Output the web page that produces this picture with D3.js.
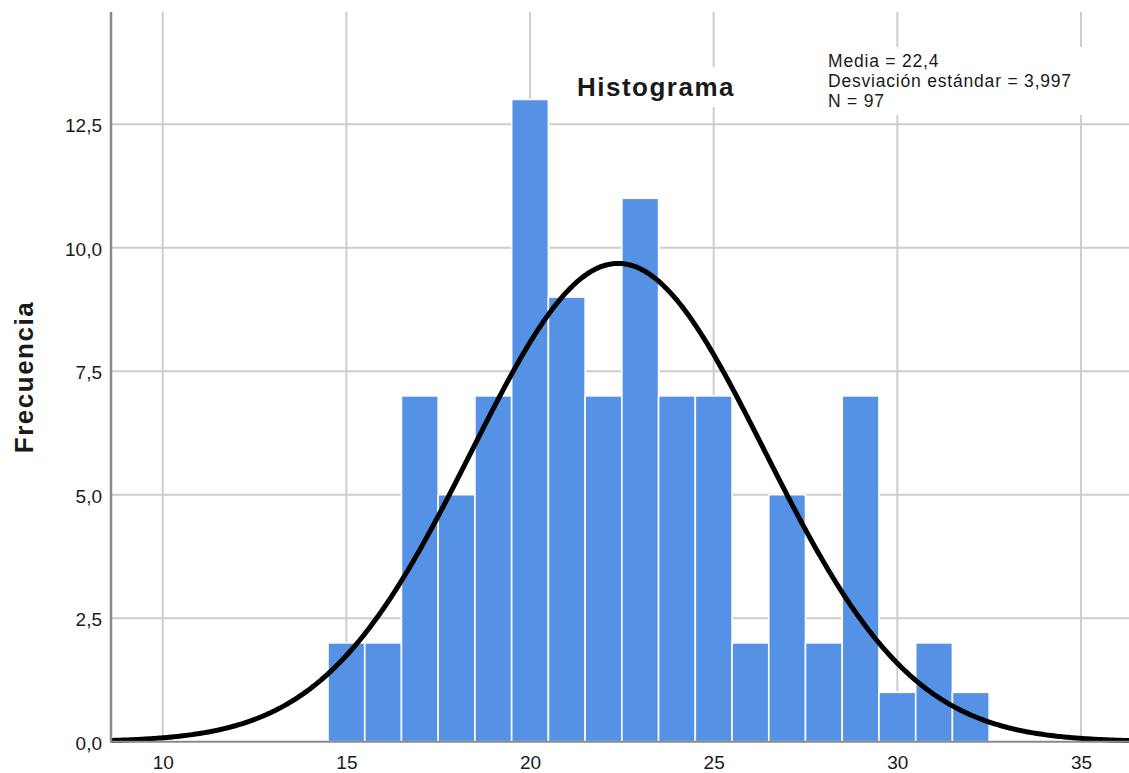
<!DOCTYPE html>
<html>
<head>
<meta charset="utf-8">
<script src="https://cdn.jsdelivr.net/npm/d3@7"></script>
<style>
  html, body { margin: 0; padding: 0; background: #fff; }
  svg { display: block; }
  text { font-family: "Liberation Sans", Arial, sans-serif; fill: #1a1a1a; }
</style>
</head>
<body>
<svg id="chart" width="1129" height="773"></svg>
<script>
// ---- data ----
const binCenters = [15, 16, 17, 18, 19, 20, 21, 22, 23, 24, 25, 26, 27, 28, 29, 30, 31, 32];
const counts     = [2, 2, 7, 5, 7, 13, 9, 7, 11, 7, 7, 2, 5, 2, 7, 1, 2, 1];
const binWidth = 1;
const xTicks = [10, 15, 20, 25, 30, 35];
const yTicks = [0, 2.5, 5, 7.5, 10, 12.5];
const statMean = 22.4;
const statSD = 3.997;
const statN = 97;
const statLines = ["Media = 22,4", "Desviación estándar = 3,997", "N = 97"];
const titleText = "Histograma";
const yLabel = "Frecuencia";

// ---- layout ----
const svg = d3.select("#chart");
const W = 1129, H = 773;
const plotLeft = 111, plotTop = 12, plotBottom = 741.7;

const x = d3.scaleLinear().domain([8.6, 36.4]).range([111.3, 1132.4]);
const y = d3.scaleLinear().domain([0, 14.77]).range([plotBottom, plotTop]);
const fmt = v => d3.format(".1f")(v).replace(".", ",");

const gridColor = "#cdcdcd";

// gridlines
svg.append("g").selectAll("line").data(xTicks).join("line")
  .attr("x1", d => x(d)).attr("x2", d => x(d))
  .attr("y1", plotTop).attr("y2", plotBottom)
  .attr("stroke", gridColor).attr("stroke-width", 2);
svg.append("g").selectAll("line").data(yTicks.filter(d => d > 0)).join("line")
  .attr("x1", plotLeft).attr("x2", W)
  .attr("y1", d => y(d)).attr("y2", d => y(d))
  .attr("stroke", gridColor).attr("stroke-width", 2);

// white boxes behind title and stats
svg.append("rect").attr("x", 570).attr("y", 67).attr("width", 175).attr("height", 40).attr("fill", "#fff");
svg.append("rect").attr("x", 816).attr("y", 47).attr("width", 284).attr("height", 68).attr("fill", "#fff");

// bars
svg.append("g").selectAll("rect").data(binCenters).join("rect")
  .attr("x", (d) => x(d - binWidth / 2))
  .attr("width", (d) => x(d + binWidth / 2) - x(d - binWidth / 2))
  .attr("y", (d, i) => y(counts[i]))
  .attr("height", (d, i) => plotBottom - y(counts[i]))
  .attr("fill", "#5592E5")
  .attr("stroke", "#ffffff")
  .attr("stroke-width", 1.6);

// normal curve
const pdf = v => statN * binWidth / (statSD * Math.sqrt(2 * Math.PI)) *
  Math.exp(-0.5 * Math.pow((v - statMean) / statSD, 2));
const curvePts = d3.range(8.6, 36.41, 0.05).map(v => [v, pdf(v)]);
svg.append("path")
  .datum(curvePts)
  .attr("d", d3.line().x(d => x(d[0])).y(d => y(d[1])).curve(d3.curveBasis))
  .attr("fill", "none").attr("stroke", "#000").attr("stroke-width", 5);

// axis lines
svg.append("line").attr("x1", plotLeft).attr("x2", plotLeft).attr("y1", plotTop).attr("y2", plotBottom + 1)
  .attr("stroke", "#8a8a8a").attr("stroke-width", 2.5);
svg.append("line").attr("x1", plotLeft).attr("x2", W).attr("y1", plotBottom).attr("y2", plotBottom)
  .attr("stroke", "#8a8a8a").attr("stroke-width", 2);

// tick labels via d3 axes (lines hidden)
const yAxis = svg.append("g").attr("transform", `translate(${plotLeft},0)`)
  .call(d3.axisLeft(y).tickValues(yTicks).tickFormat(fmt).tickSize(0).tickPadding(9));
yAxis.select(".domain").remove();
yAxis.selectAll("text").attr("font-size", 19).attr("dy", "0.4em")
  .style("font-family", "'Liberation Sans', Arial, sans-serif").attr("fill", "#1a1a1a");

const xAxis = svg.append("g").attr("transform", `translate(0,${plotBottom})`)
  .call(d3.axisBottom(x).tickValues(xTicks).tickFormat(d3.format("d")).tickSize(0).tickPadding(14));
xAxis.select(".domain").remove();
xAxis.selectAll("text").attr("font-size", 19)
  .style("font-family", "'Liberation Sans', Arial, sans-serif").attr("fill", "#1a1a1a");

// title
svg.append("text").attr("x", 656).attr("y", 96).attr("text-anchor", "middle")
  .attr("font-size", 26).attr("font-weight", "bold").attr("letter-spacing", 1.5)
  .text(titleText);

// stats
svg.append("g").selectAll("text").data(statLines).join("text")
  .attr("x", 828).attr("y", (d, i) => 67 + i * 20)
  .attr("font-size", 17.5).attr("letter-spacing", 0.8)
  .text(d => d);

// y label
svg.append("text")
  .attr("transform", "translate(33,377) rotate(-90)")
  .attr("text-anchor", "middle")
  .attr("font-size", 26).attr("font-weight", "bold").attr("letter-spacing", 1.5)
  .text(yLabel);
</script>
</body>
</html>
